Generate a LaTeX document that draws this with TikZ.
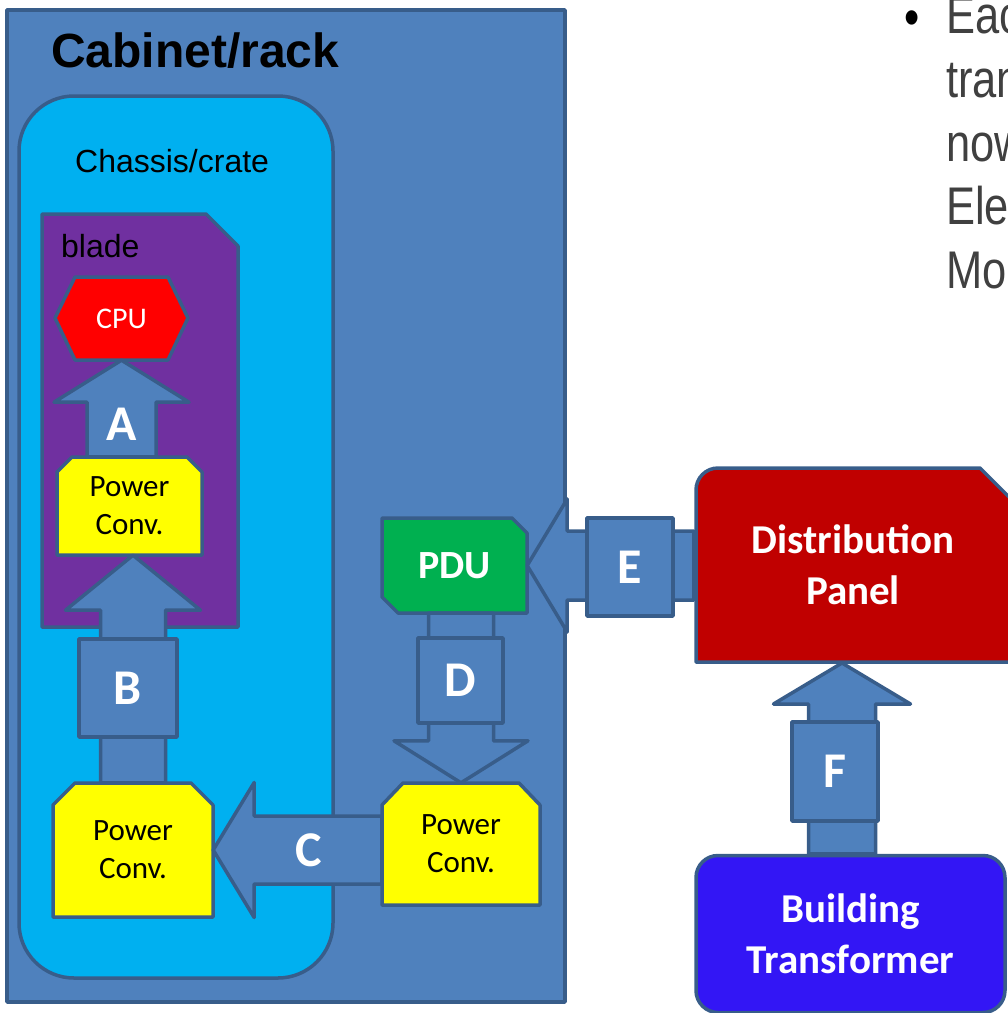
\documentclass[tikz,border=0pt]{standalone}
\usepackage{fontspec}
\usetikzlibrary{calc,positioning}
\newfontfamily\arialfont{Liberation Sans}
\newfontfamily\calfont{Carlito}
\newfontfamily\narrowfont[FakeStretch=0.82]{Liberation Sans}
\definecolor{rackblue}{HTML}{4F81BD}
\definecolor{edgeblue}{HTML}{385D8A}
\definecolor{crateblue}{HTML}{00B0F0}
\definecolor{bladepurple}{HTML}{7030A0}
\definecolor{convyellow}{HTML}{FFFF00}
\definecolor{pdugreen}{HTML}{00B050}
\definecolor{panelred}{HTML}{C00000}
\definecolor{xfblue}{HTML}{3316F5}
\definecolor{slidegray}{HTML}{404040}

% block arrow: tail, tip, half shaft, half head, head length
\newcommand{\blockarrow}[5]{%
  \coordinate (hb) at ($(#2)!#5!(#1)$);
  \draw[arrowbody] ($(#1)!#3!90:(#2)$) -- ($(hb)!#3!90:(#2)$) -- ($(hb)!#4!90:(#2)$) -- (#2)
    -- ($(hb)!#4!-90:(#2)$) -- ($(hb)!#3!-90:(#2)$) -- ($(#1)!#3!-90:(#2)$) -- cycle;}

\begin{document}
\begin{tikzpicture}[x=1pt,y=-1pt,
  frame/.style={draw=edgeblue, line width=3.5pt, line join=round},
  arrowbody/.style={frame, fill=rackblue},
  convtext/.style={align=center, inner sep=0pt, font=\calfont\fontsize{31}{38}\selectfont},
  lblbox/.style={frame, fill=rackblue, inner sep=0pt, text=white, font=\calfont\bfseries\fontsize{50}{50}\selectfont},
  lbl/.style={inner sep=0pt, text=white, font=\calfont\bfseries\fontsize{50}{50}\selectfont},
  bigtext/.style={align=center, text=white, font=\calfont\bfseries\fontsize{41}{51}\selectfont}]
  \clip (0,0) rectangle (1008,1013);

  % cabinet and crate
  \node[frame, fill=rackblue, minimum width=558, minimum height=992] (rack) at (286,506) {};
  \node[anchor=base west, inner sep=0pt, font=\arialfont\bfseries\fontsize{48}{50}\selectfont] (racktitle) at (51,67) {Cabinet/rack};
  \node[frame, fill=crateblue, rounded corners=55, minimum width=314, minimum height=882] (crate) at (176,537) {};
  \node[anchor=base west, inner sep=0pt, font=\arialfont\fontsize{32}{35}\selectfont] (cratetitle) at (75,172) {Chassis/crate};

  % blade
  \draw[frame, fill=bladepurple] (42,214) -- (206,214) -- (238,246) -- (238,627) -- (42,627) -- cycle;
  \node[anchor=base west, inner sep=0pt, font=\arialfont\fontsize{32}{35}\selectfont] (bladetitle) at (61,257) {blade};
  \draw[frame, fill=red] (55,318) -- (75,277) -- (168,277) -- (188,318) -- (168,360) -- (75,360) -- cycle;
  \node[minimum width=133, minimum height=83, inner sep=0pt, text=white, font=\calfont\fontsize{30}{30}\selectfont] (cpu) at (121.5,318.5) {CPU};
  \draw[frame, fill=convyellow] (57,555) -- (57,472) -- (72,457) -- (187,457) -- (202,472) -- (202,555) -- cycle;
  \node[convtext, minimum width=145, minimum height=98] (convA) at (129.5,506) {Power\\Conv.};

  % power path
  \draw[frame, fill=convyellow] (53,917) -- (53,805) -- (75,783) -- (191,783) -- (213,805) -- (213,917) -- cycle;
  \node[convtext, minimum width=160, minimum height=134] (convB) at (133,850) {Power\\Conv.};
  \draw[frame, fill=convyellow] (382,905) -- (382,805) -- (403,783) -- (519,783) -- (540,805) -- (540,905) -- cycle;
  \node[convtext, minimum width=158, minimum height=122] (convC) at (461,844) {Power\\Conv.};
  \draw[frame, fill=pdugreen] (382,518) -- (512,518) -- (527,533) -- (527,613) -- (398,613) -- (382,597) -- cycle;
  \node[minimum width=145, minimum height=95, inner sep=0pt, text=white,
    font=\calfont\bfseries\fontsize{40}{40}\selectfont] (pdu) at (454.5,565.5) {PDU};
  \draw[frame, fill=panelred] (696,662) [rounded corners=22] -- (696,468) [sharp corners] -- (980,468) -- (1014,502) -- (1014,662) -- cycle;
  \node[bigtext, minimum width=318, minimum height=194] (panel) at (853,565) {Distribution\\Panel};
  \node[frame, fill=xfblue, rounded corners=22, minimum width=309, minimum height=157, bigtext] (xf) at (850.5,934) {Building\\Transformer};

  % arrows
  \coordinate (tailA) at (cpu.south |- convA.north);
  \blockarrow{tailA}{cpu.south}{34.5pt}{67.5pt}{42pt}
  \coordinate (tipB) at (convB.north |- convA.south);
  \blockarrow{convB.north}{tipB}{32.5pt}{67.5pt}{55pt}
  \coordinate (tailC) at (convC.west |- convB.east);
  \blockarrow{tailC}{convB.east}{34pt}{67.5pt}{41pt}
  \coordinate (tailD) at (convC.north |- pdu.south);
  \blockarrow{tailD}{convC.north}{32.5pt}{67pt}{42pt}
  \coordinate (tailE) at (panel.west |- pdu.east);
  \blockarrow{tailE}{pdu.east}{34.5pt}{66.5pt}{40pt}
  \coordinate (tipF) at (842,663);
  \coordinate (tailF) at (tipF |- xf.north);
  \blockarrow{tailF}{tipF}{33.5pt}{68.5pt}{41pt}

  % labels
  \node[lbl] (labA) at (122,424) {A};
  \node[lblbox, minimum width=98, minimum height=98] (labB) at (128,688) {B};
  \node[lbl] (labC) at (309,850) {C};
  \node[lblbox, minimum width=85, minimum height=85] (labD) at (460.5,680.5) {D};
  \node[lblbox, minimum width=86, minimum height=98] (labE) at (630,567) {E};
  \node[lblbox, minimum width=86, minimum height=99] (labF) at (835,771.5) {F};

  % slide text
  \node[anchor=base, inner sep=0pt, text=black, font=\narrowfont\fontsize{53}{64}\selectfont] (dot) at (912,35) {•};
  \node[anchor=north west, inner sep=0pt, align=left, text=slidegray, font=\narrowfont\fontsize{53}{63.7}\selectfont] (bullet) at (946,-3) {Eac\\tran\\now\\Ele\\Mo};
\end{tikzpicture}
\end{document}
